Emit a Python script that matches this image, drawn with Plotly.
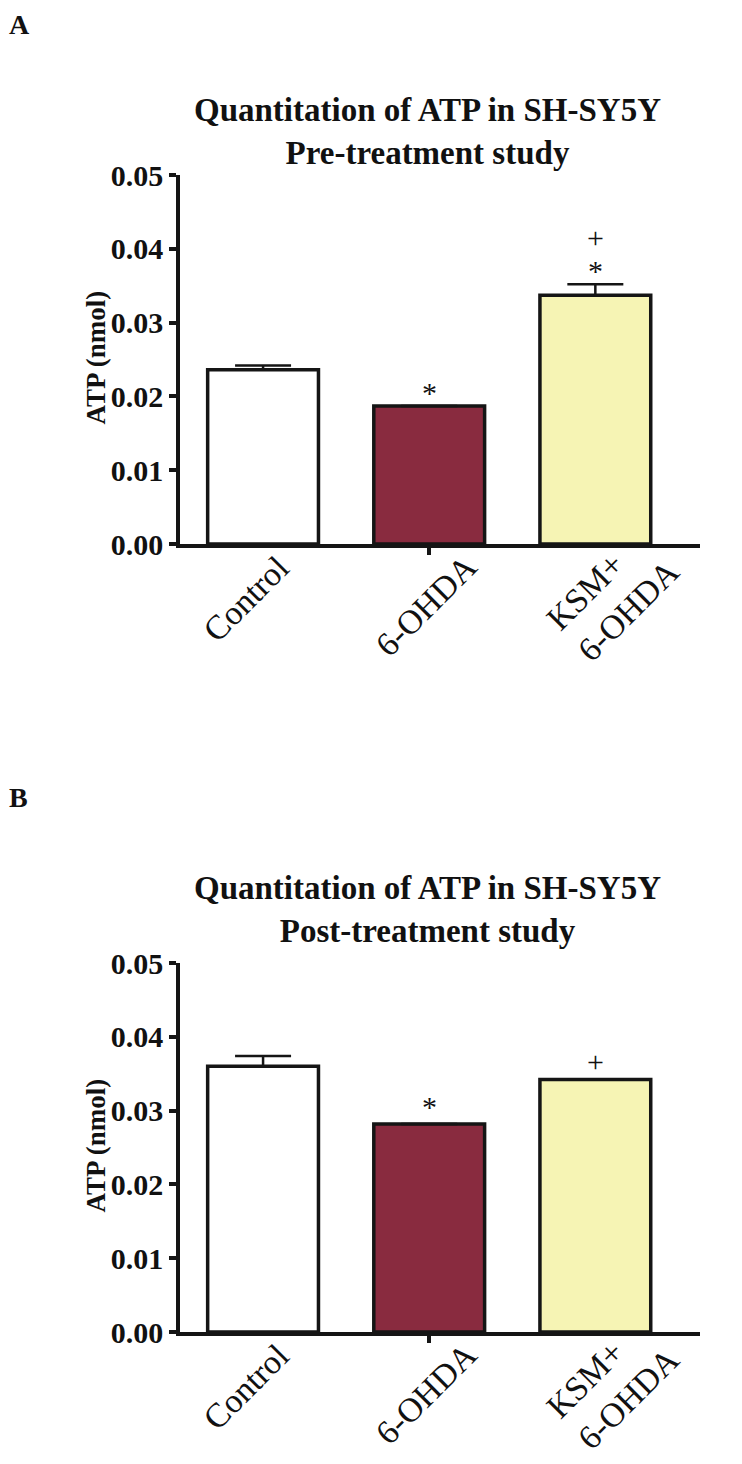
import plotly.graph_objects as go

# ---------------- data ----------------
categories = ["Control", "6-OHDA", "KSM+<br>6-OHDA"]
bar_colors = ["#FFFFFF", "#892B3F", "#F6F4B4"]

pre_mean = [0.0236, 0.0187, 0.0337]
pre_sem = [0.0006, 0.0, 0.0015]
pre_sig_text = ["*", "*", "+"]
pre_sig_cat = ["6-OHDA", "KSM+<br>6-OHDA", "KSM+<br>6-OHDA"]
pre_sig_y = [0.0205, 0.0370, 0.0415]

post_mean = [0.0360, 0.0282, 0.0342]
post_sem = [0.0014, 0.0, 0.0]
post_sig_text = ["*", "+"]
post_sig_cat = ["6-OHDA", "KSM+<br>6-OHDA"]
post_sig_y = [0.0306, 0.0366]

y_ticks = [0.00, 0.01, 0.02, 0.03, 0.04, 0.05]

panel_letters = ["A", "B"]
titles = ["Quantitation of ATP in SH-SY5Y<br>Pre-treatment study",
          "Quantitation of ATP in SH-SY5Y<br>Post-treatment study"]
y_title = "ATP (nmol)"

# ---------------- layout geometry (page px; the page adds an 8px body margin) ----------------
OFF = 8
W, H = 742 - OFF, 1464 - OFF
x0, x1 = 180 - OFF, 700 - OFF
panels = [  # (y of 0.05, y of 0.00, letter y, title centre y)
    (175, 544, 8, 131),
    (963, 1332, 798, 909),
]
# offsets of the rotated category labels' box corner from the category centre
label_xshift = [36, 58, 94]
label_yshift = [-2, -1, 26]

SERIF = "Liberation Serif, Times New Roman, serif"
INK = "#151515"

fig = go.Figure()
means = [pre_mean, post_mean]
sems = [pre_sem, post_sem]
sig_t = [pre_sig_text, post_sig_text]
sig_c = [pre_sig_cat, post_sig_cat]
sig_y = [pre_sig_y, post_sig_y]

xrange_ = [-0.5, 2.63]
layout = dict(
    template="none",
    width=W, height=H, margin=dict(l=0, r=0, t=0, b=0, autoexpand=False),
    paper_bgcolor="white", plot_bgcolor="white", showlegend=False,
    bargap=0.333,
)
annotations = []

for i, (ytop, ybot, ly, ty) in enumerate(panels):
    ytop, ybot, ly, ty = [v - OFF for v in (ytop, ybot, ly, ty)]
    xa = "x" if i == 0 else "x2"
    ya = "y" if i == 0 else "y2"
    xkey = "xaxis" if i == 0 else "xaxis2"
    ykey = "yaxis" if i == 0 else "yaxis2"
    tick_key = "xaxis3" if i == 0 else "xaxis4"
    tick_ref = "x3" if i == 0 else "x4"

    fig.add_trace(go.Bar(
        x=categories, y=means[i], xaxis=xa, yaxis=ya,
        marker=dict(color=bar_colors, line=dict(color=INK, width=3.5)),
        error_y=dict(type="data", symmetric=False, array=sems[i],
                     arrayminus=[0] * len(categories),
                     color=INK, thickness=2.5, width=28),
        hoverinfo="skip",
    ))

    dom_y = [1 - ybot / H, 1 - ytop / H]
    dom_x = [x0 / W, x1 / W]
    layout[xkey] = dict(
        domain=dom_x, anchor=ya, type="category", range=xrange_,
        showline=True, linecolor=INK, linewidth=3.5, ticks="",
        showticklabels=False, automargin=False,
        showgrid=False, zeroline=False, fixedrange=True,
    )
    layout[ykey] = dict(
        domain=dom_y, anchor=xa, range=[0, 0.05], tickvals=y_ticks,
        tickformat=".2f", showline=True, linecolor=INK, linewidth=3.5,
        ticks="outside", ticklen=7, tickwidth=3.5, tickcolor=INK,
        tickfont=dict(family=SERIF, size=30, color="#111", weight="bold"),
        showgrid=False, zeroline=False, fixedrange=True, automargin=False,
    )
    # overlay axis carrying the single visible x tick (under 6-OHDA)
    layout[tick_key] = dict(
        domain=dom_x, anchor=ya, overlaying=xa, range=xrange_,
        tickvals=[categories.index("6-OHDA")], showticklabels=False,
        ticks="outside", ticklen=10, tickwidth=3.5, tickcolor=INK,
        showline=False, showgrid=False, zeroline=False, fixedrange=True,
        automargin=False,
    )
    fig.add_trace(go.Scatter(x=[categories.index("6-OHDA")], y=[0],
                             xaxis=tick_ref, yaxis=ya, mode="markers",
                             marker=dict(opacity=0), hoverinfo="skip"))

    # rotated category labels
    for c, dx, dy in zip(categories, label_xshift, label_yshift):
        annotations.append(dict(
            x=c, y=0, xref=xa, yref=ya, text=c, showarrow=False,
            textangle=-45, xanchor="right", yanchor="top", align="left",
            xshift=dx, yshift=dy,
            font=dict(family=SERIF, size=34, color="#111"),
        ))

    for t, c, yy in zip(sig_t[i], sig_c[i], sig_y[i]):
        annotations.append(dict(
            x=c, y=yy, xref=xa, yref=ya, text=t, showarrow=False,
            xanchor="center", yanchor="middle",
            font=dict(family=SERIF, size=30, color="#111"),
        ))

    annotations.append(dict(
        x=0, y=1 - max(ly - OFF, 0) / H if i == 0 else 1 - ly / H,
        xref="paper", yref="paper",
        text=f"<b>{panel_letters[i]}</b>", showarrow=False,
        xanchor="left", yanchor="top" if i == 0 else "middle", borderpad=0,
        font=dict(family=SERIF, size=28, color="#111"),
    ))
    annotations.append(dict(
        x=(427 - OFF) / W, y=1 - ty / H, xref="paper", yref="paper",
        text=f"<b>{titles[i]}</b>", showarrow=False,
        xanchor="center", yanchor="middle",
        font=dict(family=SERIF, size=33, color="#111"),
    ))
    annotations.append(dict(
        x=(95 - OFF) / W, y=1 - ((ytop + ybot) / 2 - 2) / H, xref="paper", yref="paper",
        text=f"<b>{y_title}</b>", showarrow=False, textangle=-90,
        xanchor="center", yanchor="middle",
        font=dict(family=SERIF, size=27, color="#111"),
    ))

layout["annotations"] = annotations
fig.update_layout(**layout)
fig.write_html("out.html")
